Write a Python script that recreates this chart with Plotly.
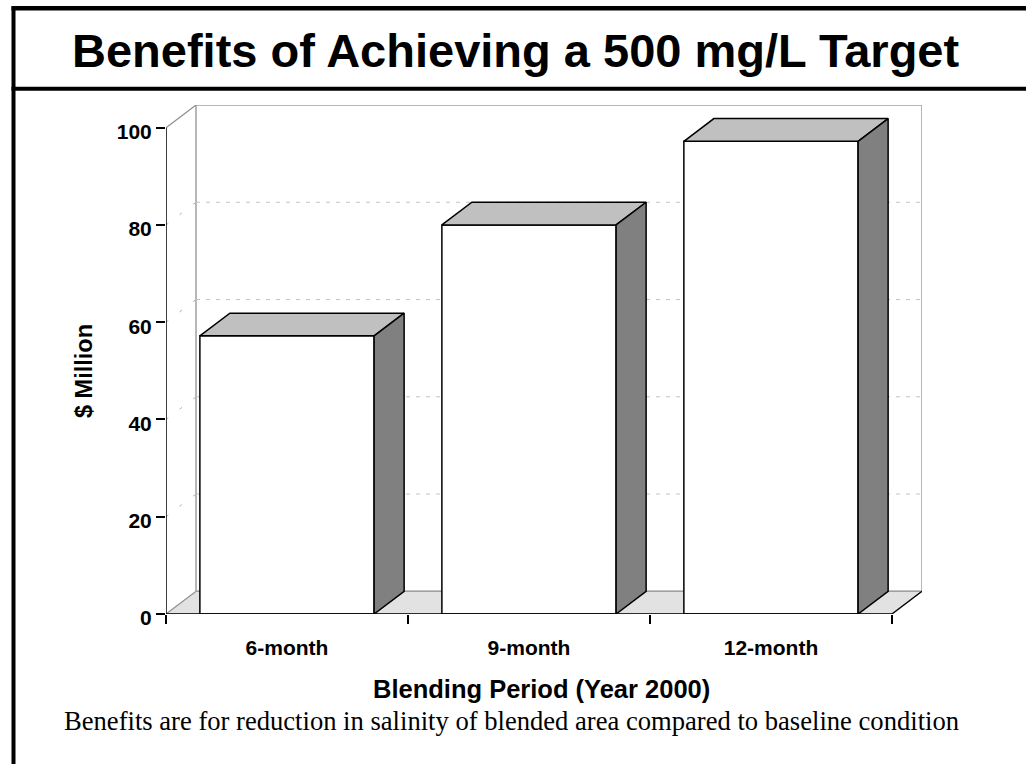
import plotly.graph_objects as go

# ---- data -------------------------------------------------------------
categories = ["6-month", "9-month", "12-month"]
benefits = [57.2, 80.0, 97.2]          # $ Million
y_tick_values = [0, 20, 40, 60, 80, 100]
grid_levels = [20, 40, 60, 80]

title_text = "Benefits of Achieving a 500 mg/L Target"
x_title = "Blending Period (Year 2000)"
y_title = "$ Million"
caption = "Benefits are for reduction in salinity of blended area compared to baseline condition"

# ---- layout geometry ---------------------------------------------------
W, H = 1026, 764
ML, MR, MT, MB = 166, 104, 105, 150
BAR_W = 0.72          # bar width in category units
DEPTH_X = 0.124       # 3-D depth offset, category units
DEPTH_Y = 4.67        # 3-D depth offset, value units
Y_MAX = 100

n = len(categories)
x_max = n + DEPTH_X
y_top = Y_MAX + DEPTH_Y
centers = [i + 0.5 for i in range(n)]
boundaries = list(range(n + 1))

SANS = "Liberation Sans, Arial, Helvetica, sans-serif"
SERIF = "Liberation Serif, Times New Roman, serif"
plot_w = W - ML - MR
plot_h = H - MT - MB


def px(x):
    return (x - ML) / plot_w


def py(y):
    return (H - MB - y) / plot_h


fig = go.Figure()

# front faces of the bars
fig.add_trace(go.Bar(
    x=centers, y=benefits, width=BAR_W,
    marker=dict(color="white", line=dict(color="black", width=1.5)),
    hoverinfo="skip", showlegend=False,
))

# top and side faces of the bars
for c, v in zip(centers, benefits):
    x0, x1 = c - BAR_W / 2, c + BAR_W / 2
    fig.add_trace(go.Scatter(
        x=[x0, x1, x1 + DEPTH_X, x0 + DEPTH_X, x0],
        y=[v, v, v + DEPTH_Y, v + DEPTH_Y, v],
        mode="lines", fill="toself", fillcolor="#c0c0c0",
        line=dict(color="black", width=1.5),
        hoverinfo="skip", showlegend=False,
    ))
    fig.add_trace(go.Scatter(
        x=[x1, x1 + DEPTH_X, x1 + DEPTH_X, x1, x1],
        y=[0, DEPTH_Y, v + DEPTH_Y, v, 0],
        mode="lines", fill="toself", fillcolor="#808080",
        line=dict(color="black", width=1.5),
        hoverinfo="skip", showlegend=False,
    ))

shapes = []
# floor
shapes.append(dict(
    type="path", layer="below",
    path=f"M 0 0 L {n} 0 L {n + DEPTH_X} {DEPTH_Y} L {DEPTH_X} {DEPTH_Y} Z",
    fillcolor="#e2e2e2", line=dict(color="#8c8c8c", width=1.2),
))
# back wall
shapes.append(dict(
    type="rect", layer="below", x0=DEPTH_X, y0=DEPTH_Y, x1=n + DEPTH_X, y1=y_top,
    fillcolor="rgba(0,0,0,0)", line=dict(color="#a0a0a0", width=1.5),
))
# left wall top edge
shapes.append(dict(
    type="line", layer="below", x0=0, y0=Y_MAX, x1=DEPTH_X, y1=y_top,
    line=dict(color="#8c8c8c", width=1.2),
))
# floor right edge
shapes.append(dict(
    type="line", layer="below", x0=n, y0=0, x1=n + DEPTH_X, y1=DEPTH_Y,
    line=dict(color="black", width=1.2),
))
# gridlines: back wall and side wall
for g in grid_levels:
    shapes.append(dict(
        type="line", layer="below", x0=DEPTH_X, y0=g + DEPTH_Y, x1=n + DEPTH_X, y1=g + DEPTH_Y,
        line=dict(color="#c4c4c4", width=1, dash="4px,6px"),
    ))
    shapes.append(dict(
        type="line", layer="below", x0=0, y0=g, x1=DEPTH_X, y1=g + DEPTH_Y,
        line=dict(color="#b0b0b0", width=1, dash="3px,14px"),
    ))
# axis lines
shapes.append(dict(type="line", layer="above", x0=0, y0=0, x1=0, y1=Y_MAX,
                   line=dict(color="black", width=1.5)))
shapes.append(dict(type="line", layer="above", x0=0, y0=0, x1=n, y1=0,
                   line=dict(color="black", width=1.5)))

# page frame and title rule
shapes.append(dict(type="line", xref="paper", yref="paper",
                   x0=px(13.5), y0=py(764), x1=px(13.5), y1=py(6.5),
                   line=dict(color="black", width=4)))
shapes.append(dict(type="line", xref="paper", yref="paper",
                   x0=px(11.5), y0=py(8.3), x1=px(1026), y1=py(8.3),
                   line=dict(color="black", width=4.5)))
shapes.append(dict(type="line", xref="paper", yref="paper",
                   x0=px(11.5), y0=py(88.7), x1=px(1026), y1=py(88.7),
                   line=dict(color="black", width=4)))

annotations = [
    dict(text=f"<b>{title_text}</b>", xref="paper", yref="paper",
         x=px(515.5), y=py(51), xanchor="center", yanchor="middle", showarrow=False,
         font=dict(family=SANS, size=47, color="black")),
    dict(text=f"<b>{x_title}</b>", xref="paper", yref="paper",
         x=px(541), y=py(689), xanchor="center", yanchor="middle", showarrow=False,
         font=dict(family=SANS, size=25.5, color="black")),
    dict(text=f"<b>{y_title}</b>", xref="paper", yref="paper", textangle=-90,
         x=px(84), y=py(371), xanchor="center", yanchor="middle", showarrow=False,
         font=dict(family=SANS, size=23.5, color="black")),
    dict(text=caption, xref="paper", yref="paper",
         x=px(511), y=py(721), xanchor="center", yanchor="middle", showarrow=False,
         font=dict(family=SERIF, size=26.6, color="black")),
]

fig.update_layout(
    width=W, height=H, autosize=False,
    margin=dict(l=ML, r=MR, t=MT, b=MB, pad=0),
    paper_bgcolor="white", plot_bgcolor="white",
    shapes=shapes, annotations=annotations,
    showlegend=False,
    xaxis=dict(
        range=[0, x_max], showgrid=False, zeroline=False, showline=False,
        tickmode="array", tickvals=centers, ticktext=categories, ticks="",
        ticklabelstandoff=19,
        tickfont=dict(family=SANS, size=21, color="black", weight="bold"),
        minor=dict(tickmode="array", tickvals=boundaries, ticks="outside",
                   ticklen=9, tickwidth=1.5, tickcolor="black"),
    ),
    yaxis=dict(
        range=[0, y_top], showgrid=False, zeroline=False, showline=False,
        tickmode="array", tickvals=y_tick_values, ticks="outside",
        ticklen=9, tickwidth=1.5, tickcolor="black",
        ticklabelshift=4,
        tickfont=dict(family=SANS, size=21, color="black", weight="bold"),
    ),
)

fig.write_html("out.html")
